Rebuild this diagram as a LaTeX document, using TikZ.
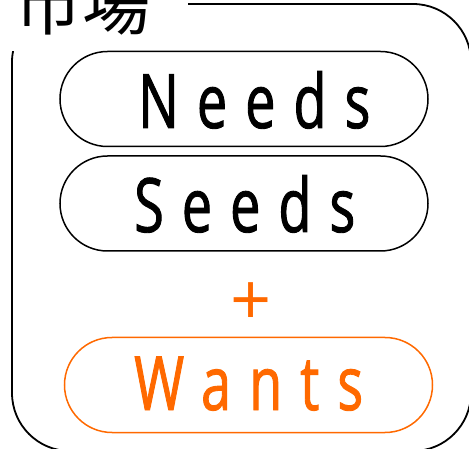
\documentclass[tikz,border=0pt]{standalone}
\usepackage{fontspec}
\setmainfont{Open Sans}
\newfontfamily\cjkfont{Noto Sans CJK JP}
\newfontfamily\pillfont[FakeStretch=0.72,LetterSpace=24,FakeBold=1.2]{Open Sans}
\usetikzlibrary{shapes.misc}
\definecolor{wantorange}{RGB}{255,105,0}
\tikzset{
  pill/.style={draw, rounded rectangle, line width=1.5pt, minimum width=368pt, minimum height=95pt, inner sep=0pt},
  pilltext/.style={font=\pillfont\fontsize{75}{80}\selectfont, inner sep=0pt, anchor=base west},
  frame/.style={draw, line width=1.8pt, rounded corners=58pt},
  titletext/.style={font=\cjkfont\fontsize{68}{70}\selectfont, anchor=base west, inner sep=0pt},
}
\begin{document}
\begin{tikzpicture}[x=1pt,y=-1pt]
\useasboundingbox (0,0) rectangle (469,449);
\clip (0,0) rectangle (469,449);
\draw[frame] (12,4) rectangle (471,451);
\fill[white] (-5,-60) rectangle (188,51);
\node[titletext] (title) at (14,30) {市場};
\node[pill] (needs) at (244,99) {};
\node[pilltext] (needstext) at (138,128) {Needs};
\node[pill] (seeds) at (244,203.5) {};
\node[pilltext] (seedstext) at (134,232) {Seeds};
\node[font=\fontsize{72}{72}\selectfont, text=wantorange, inner sep=0pt] (plus) at (251,304.5) {+};
\node[pill, draw=wantorange] (wants) at (248.5,385) {};
\node[pilltext, text=wantorange] (wantstext) at (134,410) {Wants};
\end{tikzpicture}
\end{document}
